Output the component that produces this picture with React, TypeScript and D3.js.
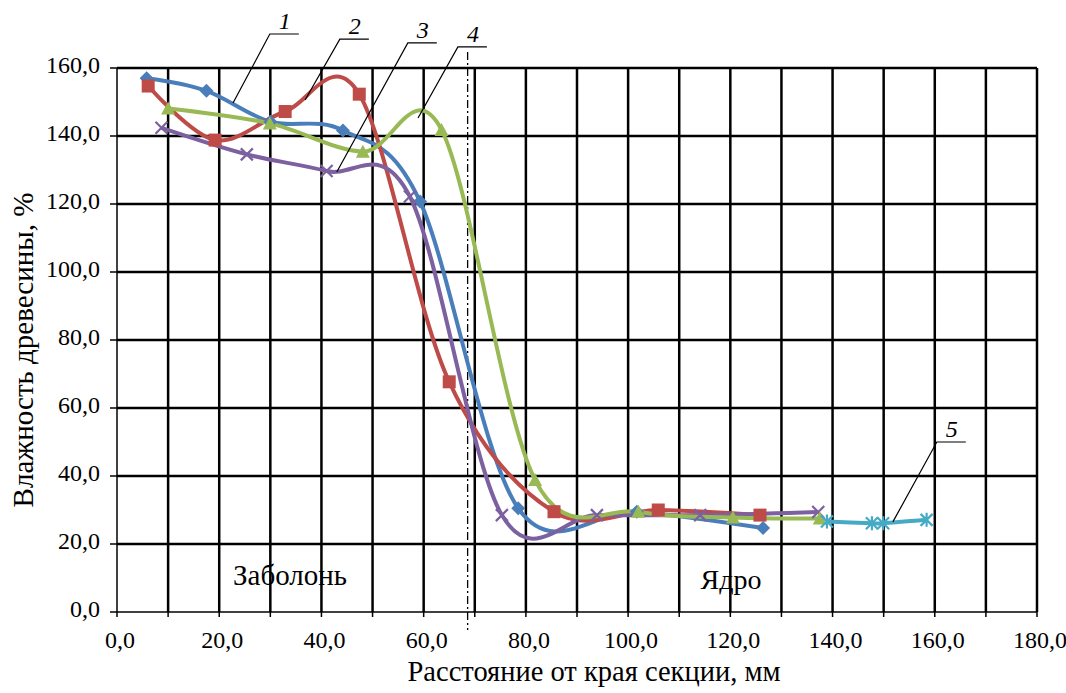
import React from 'react';
import * as d3 from 'd3';

const width = 1066;
const height = 693;
const margin = { left: 117, right: 29, top: 68, bottom: 81 };

const xTicks = [0, 20, 40, 60, 80, 100, 120, 140, 160, 180];
const yTicks = [0, 20, 40, 60, 80, 100, 120, 140, 160];

// series 1..5 (distance mm, moisture %)
const s1x = [5.8, 17.5, 30.0, 44.2, 59.3, 78.5, 101.7, 126.4];
const s1y = [157.0, 153.3, 144.2, 141.6, 120.7, 30.5, 29.5, 24.7];
const s2x = [6.1, 19.2, 32.9, 47.4, 65.0, 85.5, 105.9, 125.8];
const s2y = [154.7, 138.8, 147.2, 152.3, 67.7, 29.5, 30.0, 28.5];
const s3x = [8.7, 25.4, 41.0, 57.3, 75.3, 93.9, 114.1, 137.2];
const s3y = [142.4, 134.6, 129.7, 122.2, 28.5, 28.5, 28.5, 29.4];
const s4x = [10.0, 29.9, 48.1, 63.5, 81.8, 102.0, 120.5, 137.5];
const s4y = [148.1, 143.7, 135.4, 141.8, 38.8, 29.5, 27.8, 27.5];
const s5x = [138.9, 147.7, 149.9, 158.4];
const s5y = [26.6, 26.1, 26.1, 27.1];

const colors = ['#4A7EBB', '#BE4B48', '#7D60A0', '#98B954', '#46AAC5'];
const markers = ['diamond', 'square', 'cross', 'triangle', 'star'];

// leader labels: text, knee point and anchor (data units)
const labelText = ['1', '2', '3', '4', '5'];
const labelKnee = [[29.9, 170.0], [43.6, 168.5], [56.9, 167.4], [66.7, 166.2], [160.4, 50.0]];
const labelAnchor = [[22.7, 149.7], [36.8, 150.6], [43.0, 129.4], [58.9, 145.3], [151.8, 26.5]];

const boundaryX = 68.6;

const font = 'Liberation Serif';

function Marker({ type, color, x, y }: { type: string; color: string; x: number; y: number }) {
  if (type === 'diamond') {
    return <path d={`M${x},${y - 7}L${x + 7},${y}L${x},${y + 7}L${x - 7},${y}Z`} fill={color} />;
  }
  if (type === 'square') {
    return <rect x={x - 6.5} y={y - 6.5} width={13} height={13} fill={color} />;
  }
  if (type === 'triangle') {
    return <path d={`M${x},${y - 7}L${x + 7},${y + 6}L${x - 7},${y + 6}Z`} fill={color} />;
  }
  if (type === 'cross') {
    return (
      <path d={`M${x - 6},${y - 6}L${x + 6},${y + 6}M${x - 6},${y + 6}L${x + 6},${y - 6}`}
        stroke={color} strokeWidth={2.2} />
    );
  }
  return (
    <path d={`M${x - 6},${y - 6}L${x + 6},${y + 6}M${x - 6},${y + 6}L${x + 6},${y - 6}M${x},${y - 7}L${x},${y + 7}`}
      stroke={color} strokeWidth={2.2} />
  );
}

export default function App() {
  const x = d3.scaleLinear().domain([0, 180]).range([margin.left, width - margin.right]);
  const y = d3.scaleLinear().domain([0, 160]).range([height - margin.bottom, margin.top]);

  const line = d3.line<[number, number]>()
    .x(d => x(d[0]))
    .y(d => y(d[1]))
    .curve(d3.curveCatmullRom.alpha(0));

  const series = [
    d3.zip(s1x, s1y), d3.zip(s2x, s2y), d3.zip(s3x, s3y), d3.zip(s4x, s4y), d3.zip(s5x, s5y),
  ] as [number, number][][];

  const vLines = d3.range(10, 181, 10);
  const y0 = y(0);
  const fmt = (t: number) => d3.format('.1f')(t).replace('.', ',');

  return (
    <svg width={width} height={height} style={{ position: 'absolute', left: 0, top: 0, background: '#fff' }}>
      {/* grid */}
      {vLines.map(v => (
        <line key={'v' + v} x1={x(v)} x2={x(v)} y1={y(160)} y2={y0} stroke="#000" strokeWidth={2.5} />
      ))}
      {yTicks.filter(t => t > 0).map(t => (
        <line key={'h' + t} x1={x(0)} x2={x(180)} y1={y(t)} y2={y(t)} stroke="#000" strokeWidth={2.5} />
      ))}
      {/* axes */}
      <line x1={x(0)} x2={x(180)} y1={y0} y2={y0} stroke="#000" strokeWidth={1.5} />
      <line x1={x(0)} x2={x(0)} y1={y(160)} y2={y0} stroke="#000" strokeWidth={1.5} />
      {d3.range(0, 181, 10).map(v => (
        <line key={'xt' + v} x1={x(v)} x2={x(v)} y1={y0} y2={y0 + 5} stroke="#000" strokeWidth={1.5} />
      ))}
      {yTicks.map(t => (
        <line key={'yt' + t} x1={x(0) - 7} x2={x(0)} y1={y(t)} y2={y(t)} stroke="#000" strokeWidth={1.5} />
      ))}
      {xTicks.map(t => (
        <text key={'xl' + t} x={x(t) + 3} y={y0 + 36} textAnchor="middle" fontSize={24} fontFamily={font}>
          {fmt(t)}
        </text>
      ))}
      {yTicks.map(t => (
        <text key={'yl' + t} x={x(0) - 17} y={y(t) + 5} textAnchor="end" fontSize={24} fontFamily={font}>
          {fmt(t)}
        </text>
      ))}

      {/* sapwood / heartwood boundary */}
      <line x1={x(boundaryX)} x2={x(boundaryX)} y1={y(164.7)} y2={y0 + 18} stroke="#000"
        strokeWidth={1.3} strokeDasharray="8,3,2,3" />

      {/* series */}
      {series.map((s, i) => (
        <path key={'s' + i} d={line(s) || ''} fill="none" stroke={colors[i]} strokeWidth={4} />
      ))}
      {series.map((s, i) => (
        <g key={'m' + i}>
          {s.map((d, j) => <Marker key={j} type={markers[i]} color={colors[i]} x={x(d[0])} y={y(d[1])} />)}
        </g>
      ))}

      {/* leader labels */}
      {labelText.map((t, i) => {
        const kx = x(labelKnee[i][0]);
        const ky = y(labelKnee[i][1]);
        return (
          <g key={'lab' + i}>
            <path d={`M${x(labelAnchor[i][0])},${y(labelAnchor[i][1])}L${kx},${ky}L${kx + 29},${ky}`}
              fill="none" stroke="#000" strokeWidth={1.2} />
            <text x={kx + 15} y={ky - 5} textAnchor="middle" fontSize={24} fontStyle="italic" fontFamily={font}>{t}</text>
          </g>
        );
      })}

      <text x={290} y={585} textAnchor="middle" fontSize={29} fontFamily={font}>Заболонь</text>
      <text x={731} y={589} textAnchor="middle" fontSize={28} fontFamily={font}>Ядро</text>

      <text x={594} y={681} textAnchor="middle" fontSize={28.5} fontFamily={font}>Расстояние от края секции, мм</text>
      <text transform="translate(33,350) rotate(-90)" textAnchor="middle" fontSize={29} fontFamily={font}>
        Влажность древесины, %
      </text>
    </svg>
  );
}
